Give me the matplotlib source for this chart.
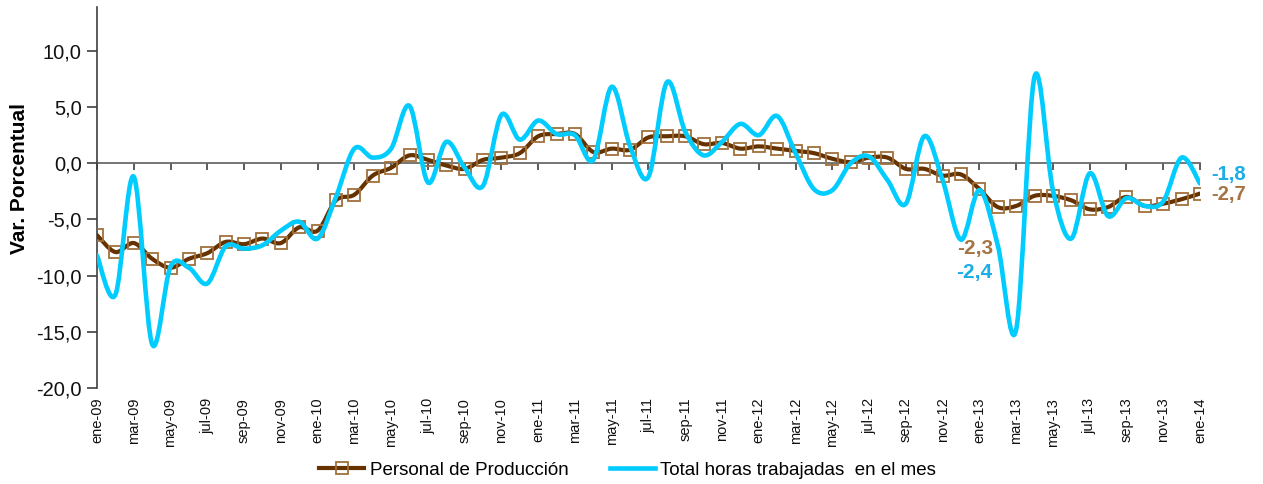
import matplotlib
matplotlib.use("Agg")
import matplotlib.pyplot as plt
from matplotlib.path import Path
from matplotlib.patches import PathPatch
from matplotlib.lines import Line2D
import numpy as np

plt.rcParams['font.family'] = ['Liberation Sans', 'DejaVu Sans']

meses = ['ene', 'feb', 'mar', 'abr', 'may', 'jun', 'jul', 'ago', 'sep', 'oct', 'nov', 'dic']
periodos = [f"{meses[m]}-{y:02d}" for y in range(9, 14) for m in range(12)] + ['ene-14']

personal = [-6.4, -7.9, -7.1, -8.5, -9.3, -8.5, -8.0, -7.0, -7.2, -6.7,
            -7.1, -5.7, -6.0, -3.3, -2.8, -1.1, -0.4, 0.7, 0.3, -0.2,
            -0.5, 0.3, 0.5, 0.9, 2.4, 2.6, 2.6, 1.0, 1.3, 1.2,
            2.3, 2.4, 2.4, 1.7, 1.8, 1.3, 1.5, 1.3, 1.1, 0.9,
            0.4, 0.1, 0.5, 0.5, -0.5, -0.5, -1.1, -1.0, -2.3, -3.9,
            -3.8, -2.9, -2.9, -3.3, -4.1, -3.9, -3.0, -3.8, -3.6, -3.2,
            -2.7]

horas = [-8.2, -11.7, -1.2, -16.1, -9.2, -9.3, -10.7, -7.4, -7.6, -7.3,
         -6.0, -5.2, -6.7, -3.0, 1.3, 0.5, 1.3, 5.1, -1.7, 1.9,
         -0.4, -2.0, 4.3, 2.1, 3.8, 2.6, 2.5, 0.3, 6.8, 1.5,
         -1.2, 7.2, 2.8, 0.7, 1.9, 3.5, 2.5, 4.2, 0.9, -2.3,
         -2.4, 0.0, 0.6, -1.5, -3.6, 2.4, -1.5, -6.8, -2.4, -7.3,
         -14.8, 7.7, -2.4, -6.7, -0.9, -4.7, -3.1, -3.8, -3.4, 0.5,
         -1.8]

c_brown = '#663300'
c_brown_mk = '#A0703C'
c_brown_lbl = '#A67443'
c_cyan = '#00CCFF'
c_cyan_lbl = '#1AADE6'


def smooth_path(x, y):
    """Excel-like smoothed line: cubic Bezier (Catmull-Rom) through the points."""
    p = np.column_stack([x, y]).astype(float)
    n = len(p)
    verts = [p[0]]
    codes = [Path.MOVETO]
    for i in range(n - 1):
        pm = p[i - 1] if i > 0 else p[i]
        pn2 = p[i + 2] if i + 2 < n else p[i + 1]
        c1 = p[i] + (p[i + 1] - pm) / 6.0
        c2 = p[i + 1] - (pn2 - p[i]) / 6.0
        verts += [c1, c2, p[i + 1]]
        codes += [Path.CURVE4] * 3
    return Path(verts, codes)


fig = plt.figure(figsize=(12.63, 4.84), dpi=100)
ax = fig.add_axes([0.0768, 0.1983, 0.8733, 0.7872])

x = np.arange(len(periodos))

ax.add_patch(PathPatch(smooth_path(x, personal), facecolor='none',
                       edgecolor=c_brown, lw=3.0, zorder=3, capstyle='round'))
ax.plot(x, personal, linestyle='none', marker='s', markersize=8.0,
        markerfacecolor='none', markeredgecolor=c_brown_mk, markeredgewidth=1.3, zorder=4)
ax.add_patch(PathPatch(smooth_path(x, horas), facecolor='none',
                       edgecolor=c_cyan, lw=3.3, zorder=5, capstyle='round'))

ax.set_xlim(0, len(periodos) - 1)
ax.set_ylim(-20, 13.9)

# y axis
ax.set_yticks(np.arange(-20, 11, 5))
ax.set_yticklabels([f"{v:.1f}".replace('.', ',') for v in np.arange(-20, 11, 5)])
ax.tick_params(axis='y', direction='out', length=7, width=1.2, color='#404040',
               labelsize=14.5, pad=4, labelcolor='#111111')
ax.spines['left'].set_color('#404040')
ax.spines['left'].set_linewidth(1.2)
ax.spines['right'].set_visible(False)
ax.spines['top'].set_visible(False)

# category axis crossing at zero
ax.spines['bottom'].set_position(('data', 0))
ax.spines['bottom'].set_color('#6a6a6a')
ax.spines['bottom'].set_linewidth(1.3)
ax.spines['bottom'].set_zorder(2)
ticks = x[::2]
ax.set_xticks(ticks)
ax.tick_params(axis='x', direction='out', length=5, width=1.2, color='#404040',
               labelbottom=False)

sec = ax.secondary_xaxis(0)
sec.set_xticks(ticks)
sec.set_xticklabels([periodos[i] for i in ticks], rotation=90)
sec.tick_params(length=0, labelsize=10.5, pad=7, labelcolor='#111111')
sec.spines['bottom'].set_visible(False)

ax.set_ylabel('Var. Porcentual', fontsize=15, fontweight='bold')
ax.yaxis.set_label_coords(-0.0615, 0.55)

def fmt(v):
    return f"{v:.1f}".replace('.', ',')

i13 = periodos.index('ene-13')
last = len(periodos) - 1
ax.annotate(fmt(personal[i13]), (x[i13], personal[i13]), xytext=(-3, -43),
            textcoords='offset points', ha='center', va='center',
            fontsize=15, fontweight='bold', color=c_brown_lbl, zorder=6)
ax.annotate(fmt(horas[i13]), (x[i13], horas[i13]), xytext=(-4, -59),
            textcoords='offset points', ha='center', va='center',
            fontsize=15, fontweight='bold', color=c_cyan_lbl, zorder=6)
ax.annotate(fmt(horas[last]), (x[last], horas[last]), xytext=(8, 6.5),
            textcoords='offset points', ha='left', va='center',
            fontsize=14.5, fontweight='bold', color=c_cyan_lbl, annotation_clip=False)
ax.annotate(fmt(personal[last]), (x[last], personal[last]), xytext=(8, -0.8),
            textcoords='offset points', ha='left', va='center',
            fontsize=14.5, fontweight='bold', color=c_brown_lbl, annotation_clip=False)

handles = [Line2D([], [], color=c_brown, lw=3.0, marker='s', markersize=8.0,
                  markerfacecolor='none', markeredgecolor=c_brown_mk, markeredgewidth=1.3),
           Line2D([], [], color=c_cyan, lw=3.3)]
fig.legend(handles, ['Personal de Producción', 'Total horas trabajadas  en el mes'],
           loc='center', bbox_to_anchor=(0.497, 0.028), ncol=2, frameon=False,
           fontsize=13.5, handlelength=2.4, handletextpad=0.3, columnspacing=2.2)

fig.savefig('out.png', dpi=100)
